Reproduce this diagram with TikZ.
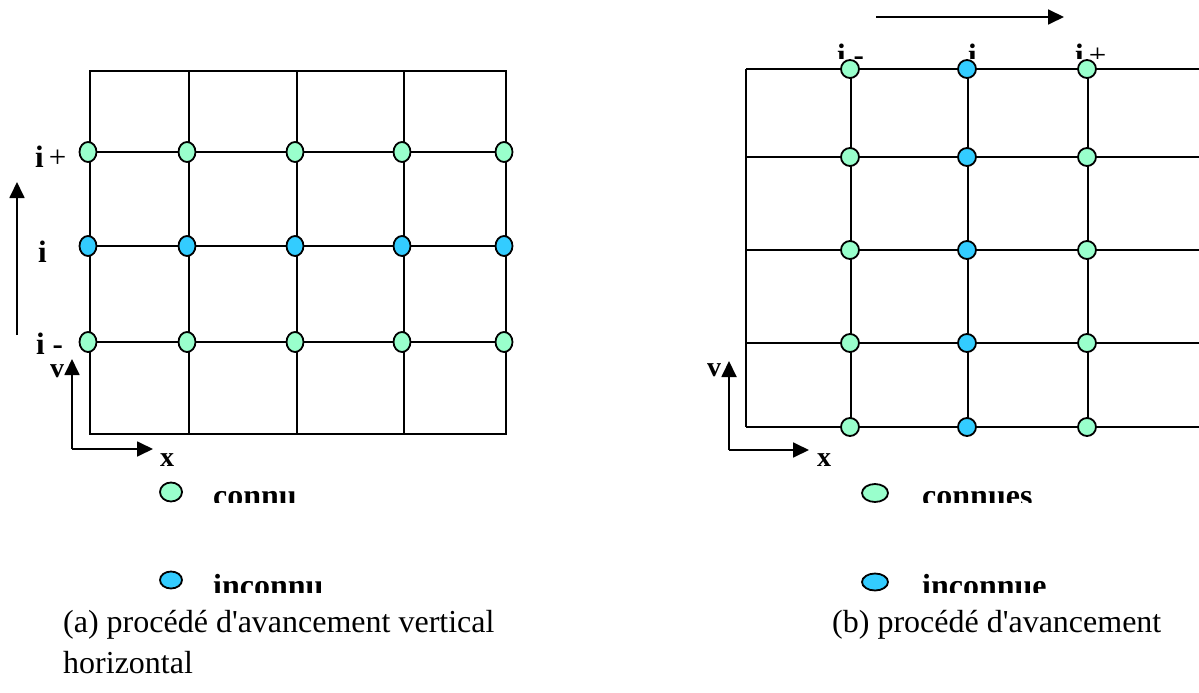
\documentclass[tikz,border=0pt]{standalone}
\usepackage{fontspec}
\setmainfont[Ligatures=TeXOff]{Liberation Serif}
\usetikzlibrary{shapes.geometric,arrows.meta}
\definecolor{known}{HTML}{99FFCC}
\definecolor{unknown}{HTML}{33CCFF}
\begin{document}
\begin{tikzpicture}[x=1pt,y=-1pt,
  gridline/.style={line width=1.8pt},
  dotL/.style={shape=ellipse,draw,line width=1.8pt,inner sep=0pt,minimum width=17pt,minimum height=20pt},
  dotR/.style={shape=ellipse,draw,line width=1.8pt,inner sep=0pt,minimum width=18pt,minimum height=18pt},
  legdot/.style={shape=ellipse,draw,line width=1.8pt,inner sep=0pt},
  kn/.style={fill=known},
  unk/.style={fill=unknown},
  arr/.style={line width=1.8pt,-{Triangle[length=16pt,width=15pt]}},
  lab/.style={font=\fontsize{31}{36}\selectfont\bfseries,inner sep=0pt,anchor=base west},
  axlab/.style={font=\fontsize{28}{34}\selectfont\bfseries,inner sep=0pt,anchor=base west},
  legtxt/.style={font=\fontsize{32}{38}\selectfont\bfseries,inner sep=0pt,anchor=base west},
  captxt/.style={font=\fontsize{32}{38}\selectfont,inner sep=0pt,anchor=base west}]
\useasboundingbox[fill=white] (0,0) rectangle (1199,693);

% ---------- left grid ----------
\coordinate (LTL) at (90,71);
\coordinate (LBR) at (506,434);
\draw[gridline] (LTL) rectangle (LBR);
\foreach \c in {189,297,404} {
  \coordinate (LvT\c) at (\c,71);
  \coordinate (LvB\c) at (\c,434);
  \draw[gridline] (LvT\c) -- (LvB\c);
}
\foreach \r in {152,246,342} {
  \coordinate (LhL\r) at (90,\r);
  \coordinate (LhR\r) at (506,\r);
  \draw[gridline] (LhL\r) -- (LhR\r);
}
\foreach \c [count=\j] in {90,189,297,404,506} {
  \node[dotL,kn]  (L1\j) at (\c-2,152) {};
  \node[dotL,unk] (L2\j) at (\c-2,246) {};
  \node[dotL,kn]  (L3\j) at (\c-2,342) {};
}
\node[lab] (lip) at (35,167) {i\,\mdseries+};
\node[lab] (li)  at (38,262) {i};
\node[lab] (lim) at (36,354) {i -};

\coordinate (LarrB) at (17,335);
\coordinate (LarrT) at (17,182);
\draw[arr] (LarrB) -- (LarrT);

\coordinate (Lo) at (72,449);
\coordinate (Ly) at (72,359);
\coordinate (Lx) at (153,449);
\draw[arr] (Lo) -- (Ly);
\draw[arr] (Lo) -- (Lx);
\node[axlab] (lv) at (50,377) {v};
\node[axlab] (lx) at (160,466) {x};

% ---------- right grid ----------
\foreach \r in {69,157,250,343,427} {
  \coordinate (RhL\r) at (746,\r);
  \coordinate (RhR\r) at (1199,\r);
  \draw[gridline] (RhL\r) -- (RhR\r);
}
\coordinate (RvT) at (746,69);
\coordinate (RvB) at (746,427);
\draw[gridline] (RvT) -- (RvB);
\foreach \c in {851,968,1088} {
  \coordinate (RvT\c) at (\c,69);
  \coordinate (RvB\c) at (\c,427);
  \draw[gridline] (RvT\c) -- (RvB\c);
}
\foreach \r [count=\j] in {69,157,250,343,427} {
  \node[dotR,kn]  (R\j1) at (850,\r) {};
  \node[dotR,unk] (R\j2) at (967,\r) {};
  \node[dotR,kn]  (R\j3) at (1087,\r) {};
}
\begin{scope}
  \clip (800,25) rectangle (1140,58.5);
  \node[lab] (rim) at (837,66) {i -};
  \node[lab] (ri)  at (968,66) {i};
  \node[lab] (rip) at (1075,66) {i\,\mdseries+};
\end{scope}

\coordinate (TarrL) at (876,17);
\coordinate (TarrR) at (1064,17);
\draw[arr] (TarrL) -- (TarrR);

\coordinate (Ro) at (729,450);
\coordinate (Ry) at (729,361);
\coordinate (Rx) at (809,450);
\draw[arr] (Ro) -- (Ry);
\draw[arr] (Ro) -- (Rx);
\node[axlab] (rv) at (707,376) {v};
\node[axlab] (rx) at (817,466) {x};

% ---------- legends ----------
\node[legdot,kn,minimum width=22pt,minimum height=19pt]  (legLk) at (171,492) {};
\node[legdot,unk,minimum width=22pt,minimum height=17pt] (legLu) at (171,580) {};
\node[legdot,kn,minimum width=26pt,minimum height=18pt]  (legRk) at (875,493) {};
\node[legdot,unk,minimum width=26pt,minimum height=17pt] (legRu) at (875,582) {};
\begin{scope}
  \clip (200,470) rectangle (1100,502);
  \node[legtxt] (tconnu)   at (213,506) {connu};
  \node[legtxt] (tconnues) at (922,506) {connues};
\end{scope}
\begin{scope}
  \clip (200,560) rectangle (1100,592);
  \node[legtxt] (tinconnu)   at (213,596) {inconnu};
  \node[legtxt] (tinconnue)  at (922,596) {inconnue};
\end{scope}

% ---------- captions ----------
\node[captxt] (capa)  at (63,632) {(a) procédé d'avancement vertical};
\node[captxt] (capa2) at (63,673) {horizontal};
\node[captxt] (capb)  at (832,632) {(b) procédé d'avancement};
\end{tikzpicture}
\end{document}
